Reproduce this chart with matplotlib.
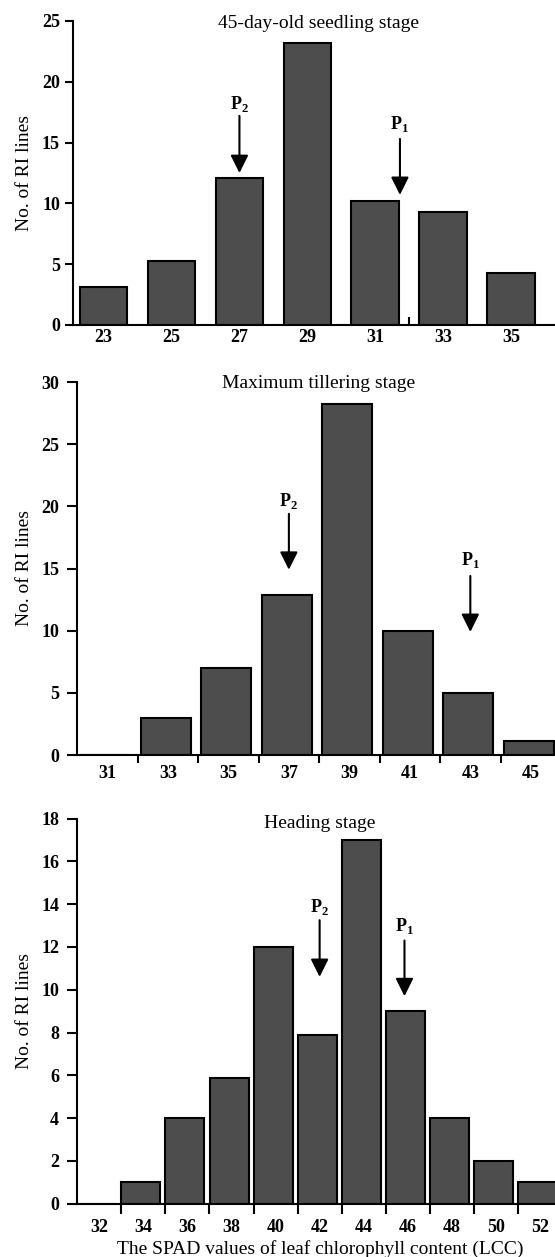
import numpy as np
import matplotlib
matplotlib.use("Agg")
import matplotlib.pyplot as plt

plt.rcParams['font.family'] = ['Liberation Serif', 'DejaVu Serif']
plt.rcParams['mathtext.fontset'] = 'custom'
plt.rcParams['mathtext.rm'] = 'Liberation Serif'
plt.rcParams['mathtext.bf'] = 'Liberation Serif:bold'

# ---------------- data ----------------
seedling_x = [23, 25, 27, 29, 31, 33, 35]
seedling_n = [3.1, 5.3, 12.1, 23.2, 10.2, 9.3, 4.3]

tillering_x = [31, 33, 35, 37, 39, 41, 43, 45]
tillering_n = [0, 3, 7, 12.9, 28.2, 10, 5, 1.1]

heading_x = [32, 34, 36, 38, 40, 42, 44, 46, 48, 50, 52]
heading_n = [0, 1, 4, 5.9, 12, 7.9, 17, 9, 4, 2, 1]

titles = ["45-day-old seedling stage", "Maximum tillering stage", "Heading stage"]
ylabel = "No. of RI lines"
xlabel = "The SPAD values of leaf chlorophyll content (LCC)"

# parent markers: (x, arrow top, arrow tip, label y)
seedling_p2 = (27, 17.2, 12.5, 18.2)
seedling_p1 = (31.73, 15.3, 10.7, 16.5)
tillering_p2 = (37, 19.4, 14.9, 20.4)
tillering_p1 = (43, 14.4, 9.9, 15.7)
heading_p2 = (42, 13.25, 10.6, 13.85)
heading_p1 = (45.85, 12.3, 9.7, 13.0)

# ---------------- figure ----------------
W, H = 555, 1257
fig = plt.figure(figsize=(W / 100, H / 100), dpi=100)

def ax_px(left, top, right, bottom):
    return fig.add_axes([left / W, 1 - bottom / H, (right - left) / W, (bottom - top) / H])

BAR = '#4d4d4d'
SPW = 1.5
TICKFS = 13
LABFS = 14

def style(ax):
    for s in ['top', 'right']:
        ax.spines[s].set_visible(False)
    for s in ['left', 'bottom']:
        ax.spines[s].set_linewidth(SPW)
    for lab in ax.get_yticklabels():
        lab.set_fontweight('bold')
    ax.tick_params(axis='y', which='major', labelsize=TICKFS, width=SPW)

def arrow(ax, p, lab):
    x, top, tip, ly = p
    ax.annotate('', xy=(x, tip), xytext=(x, top),
                arrowprops=dict(arrowstyle='-|>,head_length=0.9,head_width=0.45',
                                lw=1.5, color='black', mutation_scale=12,
                                shrinkA=0, shrinkB=0))
    ax.text(x, ly, lab, ha='center', va='center', fontsize=13)

# ---- top panel ----
ax1 = ax_px(72.5, 21, 555, 325)
ax1.bar(np.array(seedling_x), seedling_n, width=1.4, color=BAR, edgecolor='black', linewidth=1.5, zorder=2)
ax1.set_xlim(22.08, 36.3)
ax1.set_ylim(0, 25)
ax1.set_yticks(np.arange(0, 26, 5))
ax1.set_xticks(seedling_x)
ax1.set_xticklabels([str(v) for v in seedling_x], fontweight='bold')
ax1.tick_params(axis='x', which='major', length=0, pad=3, labelsize=TICKFS)
ax1.set_xticks([32], minor=True)
ax1.tick_params(axis='x', which='minor', direction='in', length=6, width=SPW)
ax1.tick_params(axis='y', length=6, pad=3)
style(ax1)
arrow(ax1, seedling_p2, r'$\mathbf{P}_{\mathbf{2}}$')
arrow(ax1, seedling_p1, r'$\mathbf{P}_{\mathbf{1}}$')

# ---- middle panel ----
ax2 = ax_px(77.2, 382, 555, 755)
ax2.bar(np.array(tillering_x) - 0.07, tillering_n, width=1.66, color=BAR, edgecolor='black', linewidth=1.5, zorder=2)
ax2.set_xlim(30, 45.8)
ax2.set_ylim(0, 30)
ax2.set_yticks(np.arange(0, 31, 5))
ax2.set_xticks(np.array(tillering_x[:-1]) + 1)
ax2.set_xticklabels([])
ax2.tick_params(axis='x', which='major', direction='out', length=6, width=SPW)
ax2.set_xticks(tillering_x, minor=True)
ax2.set_xticklabels([str(v) for v in tillering_x], minor=True, fontweight='bold')
ax2.tick_params(axis='x', which='minor', length=0, pad=7, labelsize=TICKFS)
ax2.tick_params(axis='y', length=7, pad=6)
style(ax2)
arrow(ax2, tillering_p2, r'$\mathbf{P}_{\mathbf{2}}$')
arrow(ax2, tillering_p1, r'$\mathbf{P}_{\mathbf{1}}$')

# ---- bottom panel ----
ax3 = ax_px(77.2, 818.5, 555, 1203.8)
ax3.bar(np.array(heading_x) - 0.11, heading_n, width=1.77, color=BAR, edgecolor='black', linewidth=1.5, zorder=2)
ax3.set_xlim(31, 52.68)
ax3.set_ylim(0, 18)
ax3.set_yticks(np.arange(0, 19, 2))
ax3.set_xticks(np.array(heading_x[:-1]) + 1)
ax3.set_xticklabels([])
ax3.tick_params(axis='x', which='major', direction='out', length=7, width=SPW)
ax3.set_xticks(heading_x, minor=True)
ax3.set_xticklabels([str(v) for v in heading_x], minor=True, fontweight='bold')
ax3.tick_params(axis='x', which='minor', length=0, pad=11, labelsize=TICKFS)
ax3.tick_params(axis='y', length=7, pad=6)
style(ax3)
arrow(ax3, heading_p2, r'$\mathbf{P}_{\mathbf{2}}$')
arrow(ax3, heading_p1, r'$\mathbf{P}_{\mathbf{1}}$')

# ---- texts ----
def ftext(x, y, s, **kw):
    fig.text(x / W, 1 - y / H, s, **kw)

ftext(318, 23, titles[0], ha='center', va='center', fontsize=LABFS)
ftext(319, 384, titles[1], ha='center', va='center', fontsize=LABFS)
ftext(320, 823, titles[2], ha='center', va='center', fontsize=LABFS)
for yc in (173, 568, 1011):
    ftext(25, yc, ylabel, ha='center', va='center', rotation=90, fontsize=LABFS)
ftext(320, 1249, xlabel, ha='center', va='center', fontsize=LABFS)

fig.savefig('out.png', dpi=100)
